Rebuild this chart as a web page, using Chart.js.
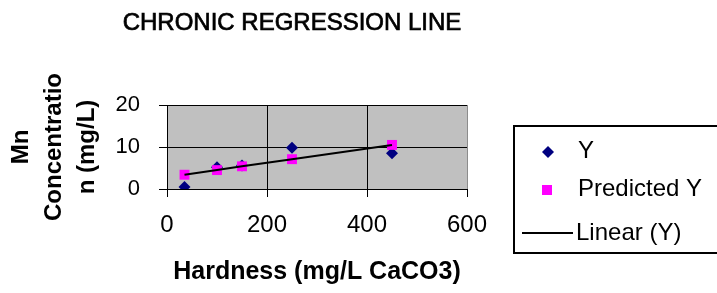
<!DOCTYPE html>
<html>
<head>
<meta charset="utf-8">
<script src="https://cdn.jsdelivr.net/npm/chart.js@4/dist/chart.umd.min.js"></script>
<style>
  body { margin: 0; background: #fff; }
  canvas { display: block; }
</style>
</head>
<body>
<canvas id="chart" width="717" height="293"></canvas>
<script>
// values
const hardness = [35, 100, 150, 250, 450];
const mnY = [0.5, 5.2, 5.6, 9.8, 8.5];
const predictedY = [3.4, 4.5, 5.4, 7.1, 10.5];
const xTicks = [0, 200, 400, 600];
const yTicks = [0, 10, 20];

const chartTitle = 'CHRONIC REGRESSION LINE';
const legendLabels = ['Y', 'Predicted Y', 'Linear (Y)'];

const toPoints = (xs, ys) => xs.map((x, i) => ({ x: x, y: ys[i] }));

// grey plot area like the old Excel charts
const plotBg = {
    id: 'plotBg',
    beforeDraw(chart) {
        const a = chart.chartArea;
        const ctx = chart.ctx;
        ctx.save();
        ctx.fillStyle = '#c0c0c0';
        ctx.fillRect(a.left, a.top, a.right - a.left, a.bottom - a.top);
        ctx.strokeStyle = '#8c8c8c';
        ctx.lineWidth = 1;
        ctx.strokeRect(a.left + 0.5, a.top + 0.5, a.right - a.left, a.bottom - a.top);
        ctx.restore();
    }
};

// title and boxed legend drawn by hand
const extras = {
    id: 'extras',
    afterDraw(chart) {
        const ctx = chart.ctx;
        ctx.save();
        ctx.fillStyle = '#000';
        ctx.strokeStyle = '#000';
        ctx.textBaseline = 'middle';
        ctx.textAlign = 'center';
        ctx.font = '24px "Liberation Sans", Arial, sans-serif';
        ctx.fillText(chartTitle, 292, 23);
        ctx.lineWidth = 0.7;
        ctx.strokeText(chartTitle, 292, 23); // old title looks a bit heavier

        ctx.lineWidth = 2;
        ctx.strokeRect(514, 126, 300, 127);

        const ds = chart.data.datasets;
        // Y diamond
        ctx.fillStyle = ds[2].backgroundColor;
        ctx.beginPath();
        ctx.moveTo(548, 146); ctx.lineTo(554, 152); ctx.lineTo(548, 158); ctx.lineTo(542, 152);
        ctx.closePath();
        ctx.fill();
        // predicted square
        ctx.fillStyle = ds[1].backgroundColor;
        ctx.fillRect(542, 185, 10, 10);
        // trend line
        ctx.strokeStyle = ds[0].borderColor;
        ctx.lineWidth = 2;
        ctx.beginPath();
        ctx.moveTo(522, 233); ctx.lineTo(573, 233);
        ctx.stroke();

        ctx.fillStyle = '#000';
        ctx.textAlign = 'left';
        ctx.fillText(legendLabels[0], 578, 151);
        ctx.fillText(legendLabels[1], 578, 189);
        ctx.fillText(legendLabels[2], 576, 233);
        ctx.restore();
    }
};

new Chart(document.getElementById('chart'), {
    type: 'scatter',
    data: {
        datasets: [
            {
                label: legendLabels[2],
                data: toPoints(hardness, predictedY),
                showLine: true,
                borderColor: '#000',
                borderWidth: 2,
                pointRadius: 0,
                order: 0
            },
            {
                label: legendLabels[1],
                data: toPoints(hardness, predictedY),
                backgroundColor: '#ff00ff',
                borderColor: '#ff00ff',
                pointStyle: 'rect',
                pointRadius: 7,
                borderWidth: 0,
                order: 1
            },
            {
                label: legendLabels[0],
                data: toPoints(hardness, mnY),
                backgroundColor: '#000080',
                borderColor: '#000080',
                pointStyle: 'rectRot',
                pointRadius: 6,
                borderWidth: 0,
                order: 2
            }
        ]
    },
    options: {
        responsive: false,
        animation: false,
        layout: { padding: { left: 0, top: 105, right: 250, bottom: 0 } },
        plugins: {
            legend: { display: false },
            title: { display: false },
            tooltip: { enabled: false }
        },
        scales: {
            x: {
                type: 'linear',
                min: xTicks[0],
                max: xTicks[xTicks.length - 1],
                afterBuildTicks: (s) => { s.ticks = xTicks.map(v => ({ value: v })); },
                afterFit: (s) => { s.height = 104; },
                grid: {
                    color: (c) => (c.tick && c.tick.value === 600 ? 'rgba(0,0,0,0)' : '#000'),
                    tickColor: '#000',
                    tickLength: 8,
                    lineWidth: 1
                },
                border: { color: '#000', width: 1 },
                ticks: {
                    color: '#000',
                    padding: 14,
                    font: { family: '"Liberation Sans", Arial, sans-serif', size: 24 }
                },
                title: {
                    display: true,
                    text: 'Hardness (mg/L CaCO3)',
                    color: '#000',
                    padding: { top: 0, bottom: 6 },
                    font: { family: '"Liberation Sans", Arial, sans-serif', size: 25, weight: 'bold' }
                }
            },
            y: {
                min: yTicks[0],
                max: yTicks[yTicks.length - 1],
                afterBuildTicks: (s) => { s.ticks = yTicks.map(v => ({ value: v })); },
                afterFit: (s) => { s.width = 167; },
                grid: { color: '#000', tickColor: '#000', tickLength: 8, lineWidth: 1 },
                border: { color: '#000', width: 1 },
                ticks: {
                    color: '#000',
                    padding: 19,
                    font: { family: '"Liberation Sans", Arial, sans-serif', size: 22 }
                },
                title: {
                    display: true,
                    text: ['Mn', 'Concentratio', 'n (mg/L)'],
                    color: '#000',
                    padding: { top: 5, bottom: 0 },
                    font: { family: '"Liberation Sans", Arial, sans-serif', size: 24, weight: 'bold', lineHeight: 1.375 }
                }
            }
        }
    },
    plugins: [plotBg, extras]
});
</script>
</body>
</html>
